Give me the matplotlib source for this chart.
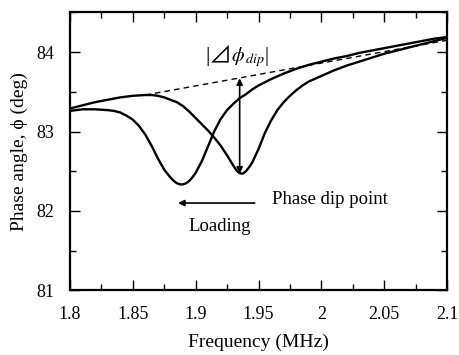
import matplotlib
matplotlib.use("Agg")
import matplotlib.pyplot as plt
from matplotlib.ticker import MultipleLocator, FixedLocator

plt.rcParams['font.family'] = ['Liberation Serif', 'DejaVu Serif', 'DejaVu Sans']
plt.rcParams['mathtext.fontset'] = 'stix'

# Curve before loading (dip near 1.935 MHz)
freq_a = [1.80, 1.81, 1.82, 1.83, 1.84, 1.85, 1.86, 1.865, 1.87, 1.875, 1.88, 1.885,
          1.89, 1.895, 1.90, 1.905, 1.91, 1.915, 1.92, 1.925, 1.93, 1.9325, 1.935,
          1.9375, 1.94, 1.9425, 1.945, 1.95, 1.955, 1.96, 1.965, 1.97, 1.975, 1.98,
          1.985, 1.99, 2.00, 2.01, 2.02, 2.03, 2.04, 2.05, 2.06, 2.07, 2.08, 2.09, 2.10]
phase_a = [83.29, 83.33, 83.37, 83.40, 83.43, 83.45, 83.46, 83.46, 83.45, 83.43, 83.40, 83.37,
           83.32, 83.25, 83.17, 83.09, 83.01, 82.92, 82.82, 82.70, 82.57, 82.51, 82.475,
           82.47, 82.50, 82.55, 82.61, 82.78, 82.98, 83.14, 83.27, 83.37, 83.45, 83.52,
           83.58, 83.63, 83.70, 83.77, 83.83, 83.88, 83.93, 83.98, 84.02, 84.06, 84.10, 84.14, 84.18]

# Curve after loading (dip near 1.888 MHz)
freq_b = [1.80, 1.81, 1.82, 1.83, 1.835, 1.84, 1.845, 1.85, 1.855, 1.86, 1.865, 1.87,
          1.875, 1.88, 1.8825, 1.885, 1.8875, 1.89, 1.8925, 1.895, 1.8975, 1.90, 1.905,
          1.91, 1.915, 1.92, 1.925, 1.93, 1.935, 1.94, 1.945, 1.95, 1.955, 1.96, 1.97,
          1.98, 1.99, 2.00, 2.01, 2.02, 2.03, 2.04, 2.05, 2.06, 2.07, 2.08, 2.09, 2.10]
phase_b = [83.26, 83.28, 83.28, 83.27, 83.26, 83.24, 83.20, 83.15, 83.07, 82.96, 82.82, 82.66,
           82.52, 82.42, 82.38, 82.35, 82.335, 82.335, 82.35, 82.38, 82.425, 82.48, 82.63,
           82.82, 83.01, 83.16, 83.27, 83.35, 83.42, 83.47, 83.53, 83.58, 83.62, 83.66, 83.73,
           83.79, 83.84, 83.88, 83.92, 83.95, 83.99, 84.02, 84.05, 84.08, 84.11, 84.14, 84.17, 84.19]

# Dashed baseline
base_f = [1.86, 2.10]
base_p = [83.46, 84.15]

# Dip depth arrow
dip_f = 1.935
dip_low, dip_high = 82.47, 83.67

xticks = [1.8, 1.85, 1.9, 1.95, 2.0, 2.05, 2.1]
xticklabels = ["1.8", "1.85", "1.9", "1.95", "2", "2.05", "2.1"]
yticks = [81, 82, 83, 84]
yticklabels = ["81", "82", "83", "84"]

fig = plt.figure(figsize=(4.6, 3.55), dpi=100)
ax = fig.add_axes([0.152, 0.182, 0.82, 0.783])

ax.plot(base_f, base_p, color='black', lw=1.0, ls=(0, (4, 3)))
ax.plot(freq_a, phase_a, color='black', lw=1.7, solid_joinstyle='round')
ax.plot(freq_b, phase_b, color='black', lw=1.7, solid_joinstyle='round')

ax.annotate('', xy=(dip_f, dip_low), xytext=(dip_f, dip_high),
            arrowprops=dict(arrowstyle='<|-|>', color='black', lw=1.2,
                            mutation_scale=9, shrinkA=0, shrinkB=0))
ax.annotate('', xy=(1.886, 82.1), xytext=(1.947, 82.1),
            arrowprops=dict(arrowstyle='-|>', color='black', lw=1.2,
                            mutation_scale=9, shrinkA=0, shrinkB=0))

# |⊿ϕ_dip| label
lab_y = 83.89
ax.text(1.9080, lab_y, '|', ha='left', va='baseline', fontsize=16)
ax.text(1.9105, lab_y - 0.02, '⊿', ha='left', va='baseline', fontsize=16.5,
        family=['Noto Sans CJK JP', 'DejaVu Sans'])
ax.text(1.9285, lab_y, '$\\phi_{\\,dip}$|', ha='left', va='baseline', fontsize=14.5)

ax.text(1.961, 82.14, 'Phase dip point', ha='left', va='center', fontsize=13.5)
ax.text(1.919, 81.8, 'Loading', ha='center', va='center', fontsize=13.5)

ax.set_xlim(1.8, 2.1)
ax.set_ylim(81, 84.5)
ax.xaxis.set_major_locator(FixedLocator(xticks))
ax.set_xticklabels(xticklabels)
ax.xaxis.set_minor_locator(MultipleLocator(0.025))
ax.yaxis.set_major_locator(FixedLocator(yticks))
ax.set_yticklabels(yticklabels)
ax.yaxis.set_minor_locator(MultipleLocator(0.5))
ax.tick_params(which='both', direction='in', top=True, right=True, labelsize=13, width=1.0)
ax.tick_params(which='major', length=7, pad=11)
ax.tick_params(which='minor', length=4)
for s in ax.spines.values():
    s.set_linewidth(1.6)

ax.set_xlabel('Frequency (MHz)', fontsize=14, labelpad=8)
ax.set_ylabel('Phase angle, ϕ (deg)', fontsize=14, labelpad=6)

fig.savefig('out.png', dpi=100)
